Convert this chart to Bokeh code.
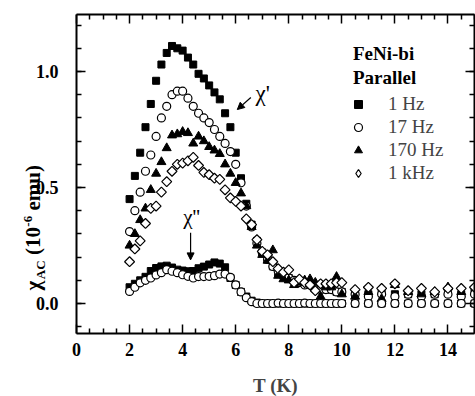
import numpy as np
from bokeh.plotting import figure
from bokeh.models import (FixedTicker, Label, Arrow, NormalHead, LinearAxis,
                          Legend, LegendItem, Range1d, CustomLabelingPolicy)
from bokeh.embed import file_html
from bokeh.resources import INLINE
from bokeh.core.properties import value

# ---------------- data ----------------
T = [2.0, 2.2, 2.4, 2.6, 2.8, 3.0, 3.2, 3.4, 3.6, 3.8,
     4.0, 4.2, 4.4, 4.6, 4.8, 5.0, 5.2, 5.4, 5.6, 5.8,
     6.0, 6.2, 6.4, 6.6, 6.8, 7.0, 7.2, 7.4, 7.6, 7.8,
     8.0, 8.2, 8.4, 8.6, 8.8, 9.0, 9.2, 9.4, 9.6, 9.8,
     10.0, 10.5, 11.0, 11.5, 12.0, 12.5, 13.0, 13.5, 14.0, 14.5, 15.0]

chi1_1hz = [0.45, 0.55, 0.65, 0.76, 0.86, 0.96, 1.03, 1.08, 1.11, 1.10,
            1.09, 1.06, 1.03, 0.99, 0.97, 0.94, 0.91, 0.88, 0.82, 0.76,
            0.65, 0.54, 0.43, 0.34, 0.27, 0.22, 0.19, 0.16, 0.13, 0.12,
            0.11, 0.10, 0.09, 0.09, 0.08, 0.07, 0.07, 0.06, 0.06, 0.05,
            0.05, 0.04, 0.04, 0.05, 0.04, 0.04, 0.04, 0.04, 0.05, 0.04, 0.05]

chi1_17hz = [0.31, 0.40, 0.48, 0.57, 0.64, 0.72, 0.80, 0.85, 0.90, 0.915,
             0.915, 0.885, 0.85, 0.82, 0.80, 0.78, 0.75, 0.72, 0.69, 0.655,
             0.60, 0.52, 0.42, 0.33, 0.26, 0.22, 0.19, 0.16, 0.14, 0.12,
             0.11, 0.10, 0.09, 0.08, 0.08, 0.07, 0.06, 0.06, 0.06, 0.05,
             0.05, 0.04, 0.03, 0.04, 0.03, 0.04, 0.03, 0.04, 0.04, 0.03, 0.04]

chi1_170hz = [0.25, 0.30, 0.36, 0.41, 0.49, 0.56, 0.61, 0.67, 0.725, 0.73,
              0.74, 0.735, 0.69, 0.72, 0.70, 0.675, 0.66, 0.645, 0.60, 0.56,
              0.52, 0.475, 0.42, 0.33, 0.25, 0.21, 0.185, 0.23, 0.12, 0.105,
              0.10, 0.08, 0.09, 0.10, 0.105, 0.09, 0.03, 0.07, 0.07, 0.115,
              0.04, 0.03, 0.05, 0.02, 0.08, 0.05, 0.04, 0.05, 0.07, 0.05, 0.0]

chi1_1khz = [0.18, 0.235, 0.27, 0.345, 0.41, 0.42, 0.48, 0.525, 0.57, 0.60,
             0.605, 0.615, 0.63, 0.595, 0.565, 0.555, 0.54, 0.535, 0.49, 0.455,
             0.44, 0.42, 0.365, 0.34, 0.275, 0.225, 0.21, 0.18, 0.15, 0.135,
             0.145, 0.09, 0.105, 0.09, 0.08, 0.055, 0.085, 0.085, 0.085, 0.09,
             0.09, 0.06, 0.07, 0.065, 0.085, 0.055, 0.065, 0.05, 0.065, 0.065, 0.07]

chi2_1hz = [0.07, 0.085, 0.10, 0.115, 0.14, 0.153, 0.16, 0.163, 0.155, 0.146,
            0.142, 0.139, 0.14, 0.152, 0.159, 0.168, 0.177, 0.172, 0.156, 0.11,
            0.08, 0.05, 0.03, 0.012, 0.004, 0.0, 0.0, 0.0, 0.0, 0.0,
            0.0, 0.0, 0.0, 0.0, 0.0, 0.0, 0.0, 0.0, 0.0, 0.0,
            0.0, 0.0, 0.0, 0.0, 0.0, 0.0, 0.0, 0.0, 0.0, 0.0, 0.0]

chi2_17hz = [0.052, 0.07, 0.089, 0.10, 0.11, 0.123, 0.133, 0.146, 0.139, 0.133,
             0.124, 0.117, 0.11, 0.116, 0.116, 0.117, 0.12, 0.127, 0.127, 0.113,
             0.08, 0.05, 0.025, 0.008, 0.0, 0.0, 0.0, 0.0, 0.002, 0.0,
             0.0, 0.0, 0.0, 0.002, 0.0, 0.0, 0.0, 0.0, 0.0, 0.0,
             0.0, 0.0, 0.0, 0.0, 0.0, 0.0, 0.0, 0.0, 0.0, 0.0, 0.0]

series_labels = ["1 Hz", "17 Hz", "170 Hz", "1 kHz"]
x_ticks = [0, 2, 4, 6, 8, 10, 12, 14]
y_ticks = [0.0, 0.5, 1.0]
y_tick_labels = ["0.0", "0.5", "1.0"]

# ---------------- figure ----------------
SERIF = "Liberation Serif"
X_LO, X_HI = 0.0, 15.0          # axis box, data units
Y_LO, Y_HI = -0.129, 1.246
PXX = 398 / 15.0                 # px per data unit
PXY = 232.0

# the frame covers the whole canvas; the axes sit on the box at fixed data positions
p = figure(width=475, height=396,
           x_range=Range1d(X_LO - 76 / PXX, X_LO - 76 / PXX + 475 / PXX),
           y_range=Range1d(-93 / PXY, -93 / PXY + 396 / PXY),
           output_backend="svg", toolbar_location=None, min_border=0)
p.grid.visible = False
p.outline_line_color = None
p.background_fill_color = "white"
p.border_fill_color = "white"

x_minor = [v for v in np.arange(0, 15.01, 0.5) if v not in x_ticks]
y_minor = [round(v, 2) for v in np.arange(-0.1, 1.21, 0.1)]

no_labels = CustomLabelingPolicy(code="""
    for (let i = 0; i < indices.size; i++) { indices.unset(i) }
    return indices
""")


def style_axis(ax, ticks, minor, show_labels):
    ax.ticker = FixedTicker(ticks=ticks, minor_ticks=minor)
    ax.axis_line_width = 2
    ax.axis_line_color = "black"
    ax.major_tick_in = 9
    ax.major_tick_out = 0
    ax.minor_tick_in = 5
    ax.minor_tick_out = 0
    ax.major_tick_line_width = 1.5
    ax.minor_tick_line_width = 1.5
    ax.major_label_text_font = SERIF
    ax.major_label_text_font_style = "bold"
    ax.major_label_text_color = "black"
    if show_labels:
        ax.major_label_text_font_size = "18px"
    else:
        ax.major_label_text_font_size = "0px"
        ax.major_label_standoff = 0
        ax.major_label_policy = no_labels


xb = p.xaxis[0]
style_axis(xb, x_ticks, x_minor, True)
xb.fixed_location = Y_LO
xb.bounds = (X_LO, X_HI)
xb.major_label_standoff = 10
xb.axis_label = "T (K)"
xb.axis_label_text_font = SERIF
xb.axis_label_text_font_style = "bold"
xb.axis_label_text_font_size = "19px"
xb.axis_label_standoff = 15

yl = p.yaxis[0]
style_axis(yl, y_ticks, y_minor, True)
yl.fixed_location = X_LO
yl.bounds = (Y_LO, Y_HI)
yl.major_label_standoff = 18
yl.major_label_overrides = {t: s for t, s in zip(y_ticks, y_tick_labels)}

xt = LinearAxis(fixed_location=Y_HI, bounds=(X_LO, X_HI))
style_axis(xt, x_ticks, x_minor, False)
p.add_layout(xt, "above")
yr = LinearAxis(fixed_location=X_HI, bounds=(Y_LO, Y_HI))
style_axis(yr, y_ticks, y_minor, False)
p.add_layout(yr, "right")

# ---------------- data marks ----------------
r1 = p.scatter(T, chi1_1hz, marker="square", size=7, fill_color="black", line_color="black")
r2 = p.scatter(T, chi1_17hz, marker="circle", size=8, fill_color="white", line_color="black", line_width=1.2)
r3 = p.scatter(T, chi1_170hz, marker="triangle", size=9, fill_color="black", line_color="black")
r4 = p.scatter(T, chi1_1khz, marker="square", angle=np.pi / 4, size=7, fill_color="white",
               line_color="black", line_width=1.2)
p.scatter(T, chi2_1hz, marker="square", size=7, fill_color="black", line_color="black")
p.scatter(T, chi2_17hz, marker="circle", size=8, fill_color="white", line_color="black", line_width=1.2)

# legend key for the diamonds (legend keys ignore the glyph angle); draws nothing in the plot
r4_key = p.scatter(x=[np.nan], y=[np.nan], marker="diamond", size=9, fill_color="white",
                   line_color="black", line_width=1.2)

# ---------------- legend ----------------
legend = Legend(items=[LegendItem(label=value(lab), renderers=[r]) for lab, r in
                       zip(series_labels, [r1, r2, r3, r4_key])],
                location=(348, 212), padding=0, spacing=1, margin=0,
                glyph_width=20, glyph_height=22, label_height=20, label_standoff=20,
                label_text_font=SERIF, label_text_font_size="19px",
                background_fill_alpha=0, border_line_color=None)
p.add_layout(legend)

for txt, yy in (("FeNi-bi", 1.0797), ("Parallel", 0.974)):
    p.add_layout(Label(x=10.42, y=yy, text=txt, text_font=SERIF, text_font_style="bold",
                       text_font_size="19px", text_baseline="middle", text_align="left",
                       text_color="black"))

# ---------------- annotations ----------------
p.add_layout(Label(x=7.02, y=0.905, text="χ'", text_font=SERIF, text_font_size="23px",
                   text_align="center", text_baseline="middle", text_color="black"))
p.add_layout(Arrow(x_start=6.57, y_start=0.888, x_end=6.06, y_end=0.836, line_width=1.2,
                   end=NormalHead(size=7, fill_color="black", line_color="black")))
p.add_layout(Label(x=4.34, y=0.375, text="χ''", text_font=SERIF, text_font_size="21px",
                   text_align="center", text_baseline="middle", text_color="black"))
p.add_layout(Arrow(x_start=4.30, y_start=0.305, x_end=4.30, y_end=0.188, line_width=1.2,
                   end=NormalHead(size=7, fill_color="black", line_color="black")))

# ---------------- y axis label built from pieces (rotated, reads upwards) ----------------
main_x = (32.5 - 76) / PXX     # middle line of the big pieces
sub_x = (40.2 - 76) / PXX      # subscript
sup_x = (27.2 - 76) / PXX      # superscript
y_start = (303 - 290) / PXY
pieces = [("χ", 21, main_x, 0), ("AC", 13, sub_x, 11.3), ("(10", 21, main_x, 35.5),
          ("-6", 13, sup_x, 63.8), ("emu)", 21, main_x, 80.0)]
for txt, fs, xx, dy in pieces:
    p.add_layout(Label(x=xx, y=y_start + dy / PXY, text=txt,
                       angle=np.pi / 2, text_font=SERIF, text_font_style="bold",
                       text_font_size=f"{fs}px", text_align="left", text_baseline="middle",
                       text_color="black"))

open("out.html", "w").write(file_html(p, INLINE))
